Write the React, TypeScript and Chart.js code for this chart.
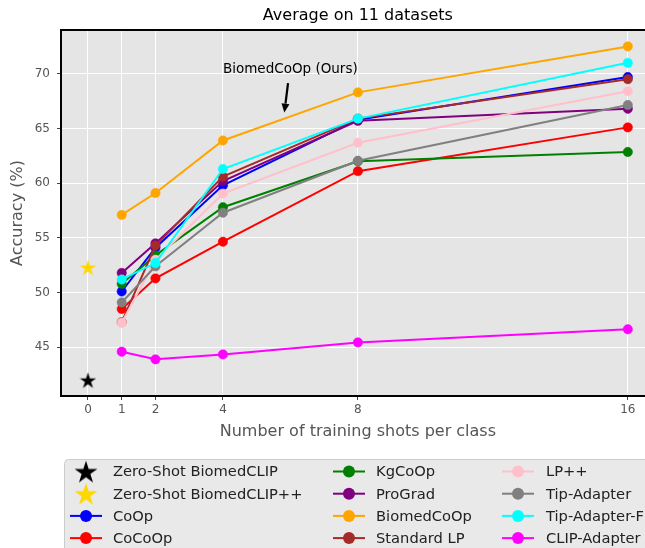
import React, { useEffect, useRef } from 'react';
import { Chart, registerables } from 'chart.js';

Chart.register(...registerables);

// ---------------- data ----------------
const shots = [1, 2, 4, 8, 16];
const xTicks = [0, 1, 2, 4, 8, 16];
const yTicks = [45, 50, 55, 60, 65, 70];

const zeroShotBiomedCLIP = 42.0;
const zeroShotBiomedCLIPpp = 52.3;

const coop = [50.1, 54.1, 59.8, 65.8, 69.7];
const cocoop = [48.5, 51.3, 54.65, 61.1, 65.1];
const kgcoop = [50.8, 53.4, 57.8, 62.0, 62.85];
const prograd = [51.8, 54.5, 60.2, 65.7, 66.8];
const biomedcoop = [57.1, 59.1, 63.9, 68.3, 72.5];
const standardLP = [47.3, 54.3, 60.6, 65.9, 69.5];
const lpPlusPlus = [47.25, 53.0, 59.05, 63.7, 68.4];
const tipAdapter = [49.1, 52.4, 57.3, 62.05, 67.15];
const tipAdapterF = [51.2, 52.7, 61.3, 65.9, 71.0];
const clipAdapter = [44.6, 43.9, 44.35, 45.45, 46.65];

const methodNames = ['CoOp', 'CoCoOp', 'KgCoOp', 'ProGrad', 'BiomedCoOp', 'Standard LP', 'LP++', 'Tip-Adapter', 'Tip-Adapter-F', 'CLIP-Adapter'];
const methodValues = [coop, cocoop, kgcoop, prograd, biomedcoop, standardLP, lpPlusPlus, tipAdapter, tipAdapterF, clipAdapter];
const methodColors = ['#0000FF', '#FF0000', '#008000', '#800080', '#FFA500', '#A52A2A', '#FFC0CB', '#808080', '#00FFFF', '#FF00FF'];

const zeroShotNames = ['Zero-Shot BiomedCLIP', 'Zero-Shot BiomedCLIP++'];
const zeroShotValues = [zeroShotBiomedCLIP, zeroShotBiomedCLIPpp];
const zeroShotColors = ['#000000', '#FFD700'];

const titleText = 'Average on 11 datasets';
const xTitle = 'Number of training shots per class';
const yTitle = 'Accuracy (%)';
const annotationText = 'BiomedCoOp (Ours)';

const FONT = '"DejaVu Sans", sans-serif';

function makeStar(size: number, color: string): HTMLCanvasElement {
  const c = document.createElement('canvas');
  c.width = size;
  c.height = size;
  const ctx = c.getContext('2d')!;
  const R = size / 2;
  const r = R * 0.382;
  ctx.beginPath();
  for (let i = 0; i < 10; i++) {
    const rad = i % 2 === 0 ? R : r;
    const a = -Math.PI / 2 + (i * Math.PI) / 5;
    const px = R + rad * Math.cos(a);
    const py = R + rad * Math.sin(a) + R * 0.1;
    if (i === 0) ctx.moveTo(px, py);
    else ctx.lineTo(px, py);
  }
  ctx.closePath();
  ctx.fillStyle = color;
  ctx.fill();
  return c;
}

const framePlugin = {
  id: 'frame',
  beforeDraw(chart: any) {
    const { ctx, chartArea } = chart;
    ctx.save();
    ctx.fillStyle = '#E5E5E5';
    ctx.fillRect(chartArea.left, chartArea.top, chartArea.right - chartArea.left, chartArea.bottom - chartArea.top);
    ctx.restore();
  },
  afterDraw(chart: any) {
    const { ctx, chartArea } = chart;
    ctx.save();
    // top spine
    ctx.strokeStyle = '#000';
    ctx.lineWidth = 2;
    ctx.beginPath();
    ctx.moveTo(chartArea.left - 1, chartArea.top);
    ctx.lineTo(chartArea.right + 1, chartArea.top);
    ctx.stroke();
    // title
    ctx.fillStyle = '#000';
    ctx.font = `16px ${FONT}`;
    ctx.textAlign = 'center';
    ctx.textBaseline = 'middle';
    ctx.fillText(titleText, (chartArea.left + chartArea.right) / 2, 16);

    // annotation
    const xs = chart.scales.x;
    const ys = chart.scales.y;
    ctx.font = `13.5px ${FONT}`;
    ctx.textAlign = 'left';
    ctx.fillStyle = '#000';
    ctx.fillText(annotationText, xs.getPixelForValue(4.0), ys.getPixelForValue(70.35));
    const x0 = xs.getPixelForValue(5.93);
    const y0 = ys.getPixelForValue(69.15);
    const x1 = xs.getPixelForValue(5.82);
    const y1 = ys.getPixelForValue(66.45);
    const ang = Math.atan2(y1 - y0, x1 - x0);
    const headLen = 9;
    const headW = 4;
    const bx = x1 - headLen * Math.cos(ang);
    const by = y1 - headLen * Math.sin(ang);
    ctx.strokeStyle = '#000';
    ctx.lineWidth = 2.2;
    ctx.beginPath();
    ctx.moveTo(x0, y0);
    ctx.lineTo(bx, by);
    ctx.stroke();
    ctx.beginPath();
    ctx.moveTo(x1, y1);
    ctx.lineTo(bx + headW * Math.sin(ang), by - headW * Math.cos(ang));
    ctx.lineTo(bx - headW * Math.sin(ang), by + headW * Math.cos(ang));
    ctx.closePath();
    ctx.fillStyle = '#000';
    ctx.fill();
    ctx.restore();
  },
};

const legendStars = zeroShotColors.map((c) => makeStar(24, c));

const legendPlugin = {
  id: 'customLegend',
  afterDraw(chart: any) {
    const { ctx } = chart;
    ctx.save();
    const bx = 64.5, by = 459.5, bw = 700, bh = 200, rr = 4;
    ctx.beginPath();
    ctx.moveTo(bx + rr, by);
    ctx.lineTo(bx + bw, by);
    ctx.lineTo(bx + bw, by + bh);
    ctx.lineTo(bx, by + bh);
    ctx.lineTo(bx, by + rr);
    ctx.quadraticCurveTo(bx, by, bx + rr, by);
    ctx.closePath();
    ctx.fillStyle = '#E9E9E9';
    ctx.fill();
    ctx.strokeStyle = '#CCCCCC';
    ctx.lineWidth = 1;
    ctx.stroke();

    const markerX = [86, 349, 518];
    const textX = [113, 376, 546];
    const rowY = (r: number) => 471.5 + r * 22.2;
    const entries: { name: string; color: string; star: number }[] = [];
    zeroShotNames.forEach((n, i) => entries.push({ name: n, color: zeroShotColors[i], star: i }));
    methodNames.forEach((n, i) => entries.push({ name: n, color: methodColors[i], star: -1 }));

    ctx.font = `14.7px ${FONT}`;
    ctx.textBaseline = 'middle';
    ctx.textAlign = 'left';
    entries.forEach((e, i) => {
      const col = Math.floor(i / 4);
      const row = i % 4;
      const cx = markerX[col];
      const cy = rowY(row);
      if (e.star >= 0) {
        const img = legendStars[e.star];
        ctx.drawImage(img, cx - img.width / 2, cy - img.height / 2);
      } else {
        ctx.strokeStyle = e.color;
        ctx.lineWidth = 2;
        ctx.beginPath();
        ctx.moveTo(cx - 16, cy);
        ctx.lineTo(cx + 16, cy);
        ctx.stroke();
        ctx.beginPath();
        ctx.arc(cx, cy, 6, 0, Math.PI * 2);
        ctx.fillStyle = e.color;
        ctx.fill();
      }
      ctx.fillStyle = '#222';
      ctx.fillText(e.name, textX[col], cy + 1);
    });
    ctx.restore();
  },
};

export default function App() {
  const ref = useRef<HTMLCanvasElement | null>(null);

  useEffect(() => {
    if (!ref.current) return;
    const plotStars = zeroShotColors.map((c) => makeStar(17, c));
    const total = zeroShotNames.length + methodNames.length;

    const datasets: any[] = [];
    zeroShotNames.forEach((n, i) => {
      datasets.push({
        label: n,
        data: [{ x: 0, y: zeroShotValues[i] }],
        showLine: false,
        pointStyle: plotStars[i],
        borderColor: zeroShotColors[i],
        backgroundColor: zeroShotColors[i],
        order: total - datasets.length,
      });
    });
    methodNames.forEach((n, i) => {
      datasets.push({
        label: n,
        data: shots.map((s, j) => ({ x: s, y: methodValues[i][j] })),
        borderColor: methodColors[i],
        backgroundColor: methodColors[i],
        pointBackgroundColor: methodColors[i],
        pointBorderColor: methodColors[i],
        borderWidth: 2,
        pointRadius: 4.7,
        pointBorderWidth: 0.5,
        tension: 0,
        order: total - datasets.length,
      });
    });

    const chart = new Chart(ref.current, {
      type: 'line',
      data: { datasets },
      options: {
        animation: false,
        responsive: false,
        events: [],
        layout: { padding: { top: 30, left: 0, right: 0, bottom: 114 } },
        plugins: {
          legend: { display: false },
          tooltip: { enabled: false },
          title: { display: false },
        },
        scales: {
          x: {
            type: 'linear',
            min: -0.8,
            max: 16.8,
            afterBuildTicks: (scale: any) => {
              scale.ticks = xTicks.map((v) => ({ value: v }));
            },
            afterFit: (scale: any) => {
              scale.height = 50;
            },
            grid: { color: '#FFFFFF', lineWidth: 1, tickColor: '#444', tickLength: 4, tickWidth: 1 },
            border: { display: true, color: '#000', width: 2 },
            ticks: { font: { family: FONT, size: 12 }, color: '#555', padding: 3, autoSkip: false, maxRotation: 0 },
            title: {
              display: true,
              text: xTitle,
              color: '#555',
              font: { family: FONT, size: 16, lineHeight: 1.2 },
              padding: { top: 0, bottom: 4.4 },
            },
          },
          y: {
            type: 'linear',
            min: 40.55,
            max: 74.0,
            afterBuildTicks: (scale: any) => {
              scale.ticks = yTicks.map((v) => ({ value: v }));
            },
            afterFit: (scale: any) => {
              scale.width = 61;
            },
            grid: { color: '#FFFFFF', lineWidth: 1, tickColor: '#444', tickLength: 4, tickWidth: 1 },
            border: { display: true, color: '#000', width: 2 },
            ticks: { font: { family: FONT, size: 12 }, color: '#555', padding: 7 },
            title: {
              display: true,
              text: yTitle,
              color: '#555',
              font: { family: FONT, size: 16, lineHeight: 1.2 },
              padding: { top: 8.4, bottom: 0 },
            },
          },
        },
      } as any,
      plugins: [framePlugin, legendPlugin],
    });
    return () => chart.destroy();
  }, []);

  return (
    <div style={{ position: 'fixed', left: 0, top: 0, width: 660, height: 560, background: '#fff' }}>
      <canvas ref={ref} width={660} height={560} style={{ width: 660, height: 560, display: 'block' }} />
    </div>
  );
}
